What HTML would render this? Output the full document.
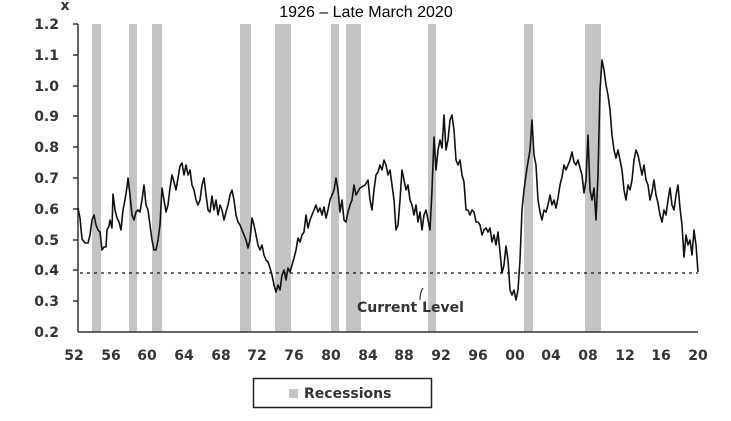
<!DOCTYPE html>
<html><head><meta charset="utf-8"><style>
html,body{margin:0;padding:0;background:#fff;}
svg{display:block}
.t{font-family:"DejaVu Sans","Liberation Sans",sans-serif;font-size:14px;fill:#333;font-weight:bold}
</style></head><body>
<svg width="731" height="421" viewBox="0 0 731 421" xmlns="http://www.w3.org/2000/svg">
<rect width="731" height="421" fill="#fff"/>
<text x="366" y="17" text-anchor="middle" font-family="Liberation Sans, sans-serif" font-size="16" fill="#000">1926 – Late March 2020</text>
<text x="65" y="10" text-anchor="middle" class="t" font-size="12">x</text>
<g fill="#c4c4c4">
<rect x="92" y="24" width="9" height="308"/>
<rect x="129" y="24" width="8" height="308"/>
<rect x="152" y="24" width="10" height="308"/>
<rect x="240" y="24" width="11" height="308"/>
<rect x="275" y="24" width="16" height="308"/>
<rect x="331" y="24" width="8" height="308"/>
<rect x="346" y="24" width="15" height="308"/>
<rect x="428" y="24" width="8" height="308"/>
<rect x="524" y="24" width="9" height="308"/>
<rect x="585" y="24" width="16" height="308"/>
</g>
<g stroke="#333" stroke-width="1.5">
<line x1="78" y1="24" x2="78" y2="332"/>
<line x1="78" y1="332" x2="698" y2="332"/>
<line x1="73" y1="24" x2="78" y2="24"/><line x1="73" y1="55" x2="78" y2="55"/><line x1="73" y1="86" x2="78" y2="86"/><line x1="73" y1="116" x2="78" y2="116"/><line x1="73" y1="147" x2="78" y2="147"/><line x1="73" y1="178" x2="78" y2="178"/><line x1="73" y1="209" x2="78" y2="209"/><line x1="73" y1="240" x2="78" y2="240"/><line x1="73" y1="270" x2="78" y2="270"/><line x1="73" y1="301" x2="78" y2="301"/>
</g>
<g class="t" text-anchor="end">
<text x="59" y="29">1.2</text><text x="59" y="60">1.1</text><text x="59" y="91">1.0</text><text x="59" y="121">0.9</text><text x="59" y="152">0.8</text><text x="59" y="183">0.7</text><text x="59" y="214">0.6</text><text x="59" y="245">0.5</text><text x="59" y="275">0.4</text><text x="59" y="306">0.3</text><text x="59" y="337">0.2</text>
</g>
<g class="t" text-anchor="middle">
<text x="74" y="360">52</text><text x="111" y="360">56</text><text x="147" y="360">60</text><text x="184" y="360">64</text><text x="221" y="360">68</text><text x="257" y="360">72</text><text x="294" y="360">76</text><text x="331" y="360">80</text><text x="368" y="360">84</text><text x="404" y="360">88</text><text x="441" y="360">92</text><text x="478" y="360">96</text><text x="515" y="360">00</text><text x="551" y="360">04</text><text x="588" y="360">08</text><text x="625" y="360">12</text><text x="661" y="360">16</text><text x="698" y="360">20</text>
</g>
<line x1="80" y1="273" x2="698" y2="273" stroke="#111" stroke-width="1.3" stroke-dasharray="3,4"/>
<polyline fill="none" stroke="#111" stroke-width="1.6" stroke-linejoin="round" points="78,208 80,218 82,239 85,243 88,243 90,235 92,220 94,215 96,225 98,230 100,232 102,250 104,247 106,247 107,230 109,226 110,220 112,228 113,194 115,210 117,218 119,222 121,230 123,210 125,200 127,187 128,178 130,195 132,215 134,220 136,212 138,210 140,212 142,200 144,185 146,205 148,210 150,225 152,240 154,250 156,250 158,240 160,225 162,188 164,200 166,212 168,205 170,188 172,175 174,182 176,190 178,178 180,166 182,163 184,175 186,165 188,175 190,170 192,185 194,190 196,200 198,205 200,200 202,185 204,178 206,195 208,210 210,212 212,196 214,210 216,200 218,215 220,205 222,210 224,220 226,212 228,205 230,195 232,190 234,200 236,215 238,222 240,225 242,230 244,235 246,240 248,248 250,240 252,218 254,225 256,235 258,245 260,250 262,245 264,255 266,260 268,262 270,268 272,275 274,285 276,292 278,285 280,290 282,275 284,270 286,280 288,268 290,272 292,265 294,258 296,250 298,238 300,242 302,235 304,232 306,215 308,228 310,220 312,215 314,210 316,205 318,212 320,208 322,215 324,207 326,218 328,210 330,200 332,195 334,190 336,178 338,190 340,212 342,200 344,220 346,222 348,212 350,205 352,200 354,185 356,195 360,188 365,185 368,180 370,200 372,210 374,190 376,175 378,172 380,165 382,170 384,160 386,165 388,175 390,170 392,185 394,200 396,230 398,225 400,200 402,170 404,180 406,190 408,185 410,200 412,205 414,215 416,205 418,222 420,212 422,230 424,215 426,210 428,220 430,230 432,190 434,137 436,170 438,150 440,140 442,148 444,115 446,150 448,140 450,120 452,115 454,130 456,160 458,165 460,160 462,175 464,182 466,210 468,210 470,215 472,210 474,212 476,222 478,222 480,225 482,235 484,230 486,228 488,232 490,228 492,242 494,235 496,245 498,232 500,252 502,273 504,265 506,246 508,260 510,290 512,295 514,290 516,300 518,290 520,260 522,210 524,190 526,175 528,162 530,150 532,120 534,155 536,165 538,200 540,212 542,220 544,210 546,212 548,205 550,195 552,205 554,200 556,208 558,198 560,185 562,177 564,165 566,170 568,165 570,160 572,152 574,162 576,165 578,160 580,168 582,175 584,193 586,180 588,135 590,190 592,200 594,188 596,220 598,175 600,90 602,60 604,70 606,85 608,95 610,110 612,135 614,150 616,158 618,150 620,160 622,170 624,190 626,200 628,185 630,190 632,180 634,160 636,150 638,155 640,165 642,175 644,165 646,180 648,185 650,200 652,192 654,180 656,195 658,203 660,215 662,222 664,210 666,215 668,200 670,188 672,205 674,210 676,195 678,185 680,208 682,225 684,257 686,235 688,245 690,240 692,255 694,230 696,245 698,272"/>
<text x="357" y="312" class="t">Current Level</text>
<path d="M420,300 Q420,292 423,288" fill="none" stroke="#333" stroke-width="1.2"/>
<rect x="253.5" y="378.5" width="178" height="29" fill="#fff" stroke="#222" stroke-width="1.5"/>
<rect x="289" y="389" width="9" height="9" fill="#c4c4c4"/>
<text x="304" y="398" class="t">Recessions</text>
</svg>
</body></html>
